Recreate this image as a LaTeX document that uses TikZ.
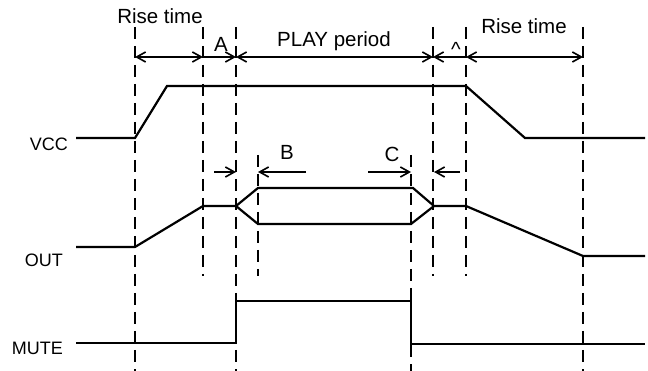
\documentclass[tikz,border=0pt]{standalone}
\usepackage{fontspec}
\setmainfont{Liberation Sans}
\usetikzlibrary{arrows.meta}
\tikzset{
  wave/.style={line width=2.2pt, line join=miter},
  guide/.style={line width=2.2pt, dash pattern=on 12pt off 7pt},
  dimline/.style={line width=1.6pt, arrows={Straight Barb[length=9pt,width=10pt]-Straight Barb[length=9pt,width=10pt]}},
  dimr/.style={line width=1.6pt, arrows={-Straight Barb[length=9pt,width=10pt]}},
  lbl/.style={font=\fontsize{20.5}{23}\selectfont, inner sep=0pt, anchor=base},
  sig/.style={font=\fontsize{18}{20}\selectfont, inner sep=0pt, anchor=base east}
}
\begin{document}
\begin{tikzpicture}[x=1pt,y=-1pt]
\useasboundingbox (0,0) rectangle (648,371);
% guide lines
\foreach \n/\x/\a/\b in {1/135/27/371, 2/203/27/276, 3/236/27/371, 4/258/155/276,
                         5/411/155/371, 6/433/27/276, 7/466/27/276, 8/583/27/371}{
  \coordinate (g\n t) at (\x,\a);
  \coordinate (g\n b) at (\x,\b);
  \coordinate (d\n) at (\x,57);
  \draw[guide] (g\n t) -- (g\n b);
}
% dimension arrows (top row)
\draw[dimline] (d1) -- (d2);
\draw[dimr] (d2) -- (d3);
\draw[dimline] (d3) -- (d6);
\draw[dimr] (d7) -- (d6);
\draw[dimline] (d7) -- (d8);
% small arrows
\coordinate (sa) at (214,172);
\coordinate (sb) at (306,172);
\coordinate (sc) at (368,172);
\coordinate (sd) at (460,172);
\coordinate (t3) at (236,172);
\coordinate (t4) at (258,172);
\coordinate (t5) at (411,172);
\coordinate (t6) at (434,172);
\draw[dimr] (sa) -- (t3);
\draw[dimr] (sb) -- (t4);
\draw[dimr] (sc) -- (t5);
\draw[dimr] (sd) -- (t6);
% labels
\node[lbl] (rise1) at (160,24) {Rise time};
\node[lbl] (la) at (221,52) {A};
\node[lbl] (play) at (334,47) {PLAY period};
\node[font=\fontsize{20.5}{23}\selectfont, inner sep=0pt] (caret) at (456,49) {\textasciicircum};
\node[lbl] (rise2) at (524,34) {Rise time};
\node[lbl] (lb) at (287,160) {B};
\node[lbl] (lc) at (392,162) {C};
\node[sig] (vcc) at (68,151) {VCC};
\node[sig] (out) at (63,267) {OUT};
\node[sig] (mute) at (63,355) {MUTE};
% waveforms
\draw[wave] (76,138) -- (135,138) -- (167,86) -- (466,86) -- (525,138) -- (645,138);
\draw[wave] (76,247) -- (135,247) -- (203,206) -- (236,206) -- (258,188) -- (413,188) -- (434,206) -- (466,206) -- (583,256) -- (645,256);
\draw[wave] (236,206) -- (258,224) -- (411,224) -- (434,206);
\draw[wave] (76,343) -- (236,343) -- (236,301) -- (411,301) -- (411,344) -- (645,344);
\end{tikzpicture}
\end{document}
